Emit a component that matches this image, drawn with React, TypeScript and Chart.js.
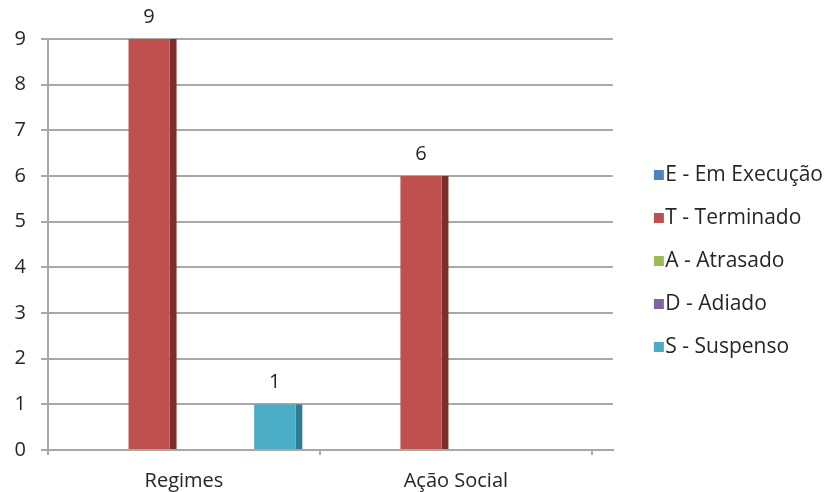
import React, { useEffect, useRef } from 'react';
import { Chart, registerables, CategoryScale } from 'chart.js';

Chart.register(...registerables);

// ---- data ----
const categories = ['Regimes', 'Ação Social'];
const seriesNames = ['E - Em Execução', 'T - Terminado', 'A - Atrasado', 'D - Adiado', 'S - Suspenso'];
const emExecucao = [0, 0];
const terminado = [9, 6];
const atrasado = [0, 0];
const adiado = [0, 0];
const suspenso = [1, 0];
const seriesValues = [emExecucao, terminado, atrasado, adiado, suspenso];
const yMin = 0;
const yMax = 9;
const yStep = 1;

// ---- styles ----
const frontColors = ['#4F81BD', '#C0504D', '#9BBB59', '#8064A2', '#4BACC6'];
const sideColors = ['#385D8A', '#7A2F2D', '#6E8A3D', '#5C4776', '#2E7C92'];
const GRID = '#a8a8a8';
const TEXT = '#262626';
const FONT = '"Open Sans", "Noto Sans", sans-serif';
const DEPTH = 21; // 3D depth of the floor
const SIDE = 7; // dark side face of each column

class FrontCategoryScale extends CategoryScale {
  static id = 'frontCategory';
  configure() {
    super.configure();
    this._endPixel -= DEPTH;
    this._length = this._endPixel - this._startPixel;
  }
}
class MidCategoryScale extends CategoryScale {
  static id = 'midCategory';
  configure() {
    super.configure();
    this._startPixel += DEPTH / 2;
    this._endPixel -= DEPTH / 2;
    this._length = this._endPixel - this._startPixel;
  }
}
Chart.register(FrontCategoryScale, MidCategoryScale);

const valueLabels = {
  id: 'valueLabels',
  afterDatasetsDraw(chart: any) {
    const ctx = chart.ctx;
    ctx.save();
    ctx.font = `20px ${FONT}`;
    ctx.fillStyle = TEXT;
    ctx.textAlign = 'center';
    ctx.textBaseline = 'middle';
    chart.data.datasets.forEach((ds: any, i: number) => {
      const meta = chart.getDatasetMeta(i);
      meta.data.forEach((el: any, j: number) => {
        const v = ds.data[j];
        if (!v) return;
        ctx.fillText(String(v), el.x - SIDE / 2, el.y - 22);
      });
    });
    ctx.restore();
  },
};

function makeSwatch(color: string) {
  const c = document.createElement('canvas');
  c.width = 40;
  c.height = 10;
  const g = c.getContext('2d')!;
  g.fillStyle = color;
  g.fillRect(29, 0, 10, 10);
  return c;
}

export default function App() {
  const ref = useRef<HTMLCanvasElement>(null);
  useEffect(() => {
    if (!ref.current) return;
    const swatches = frontColors.map(makeSwatch);
    const chart = new Chart(ref.current, {
      type: 'bar',
      data: {
        labels: categories,
        datasets: seriesNames.map((name, i) => ({
          label: name,
          data: seriesValues[i],
          xAxisID: 'xb',
          backgroundColor: frontColors[i],
          borderColor: sideColors[i],
          borderWidth: { top: 0, left: 0, bottom: 0, right: SIDE },
          borderSkipped: false,
          inflateAmount: 0,
          categoryPercentage: 0.771,
          barPercentage: 1.155,
        })),
      },
      options: {
        responsive: false,
        animation: false,
        layout: { padding: { top: 30, right: 3, bottom: 0, left: 0 } },
        plugins: {
          tooltip: { enabled: false },
          legend: {
            position: 'right',
            align: 'center',
            maxWidth: 300,
            labels: {
              usePointStyle: true,
              pointStyleWidth: 20,
              padding: 22,
              color: TEXT,
              font: { family: FONT, size: 21 },
              generateLabels: (c: any) =>
                (Chart.defaults.plugins.legend.labels as any)
                  .generateLabels(c)
                  .map((l: any, i: number) => ({ ...l, pointStyle: swatches[i] })),
            },
          },
        },
        scales: {
          x: {
            type: 'frontCategory' as any,
            offset: true,
            grid: {
              display: true,
              drawOnChartArea: false,
              drawTicks: true,
              tickLength: 5,
              color: GRID,
              lineWidth: 2,
              offset: true,
            },
            border: { display: true, color: GRID, width: 2 },
            ticks: {
              color: TEXT,
              font: { family: FONT, size: 20 },
              padding: 14,
              callback: function (this: any, v: any) {
                return this.getLabelForValue(v);
              },
            },
            afterFit: (s: any) => {
              s.height = 42;
            },
          },
          xb: {
            type: 'midCategory' as any,
            display: false,
            offset: true,
            grid: { offset: true },
          },
          topSpace: {
            type: 'category',
            position: 'top',
            grid: { display: false },
            border: { display: false },
            ticks: { display: false },
            afterFit: (s: any) => {
              s.height = 9;
            },
          },
          y: {
            type: 'linear',
            min: yMin,
            max: yMax,
            ticks: {
              stepSize: yStep,
              color: TEXT,
              font: { family: FONT, size: 20 },
              padding: 15,
            },
            grid: { color: GRID, lineWidth: 2, tickLength: 7 },
            border: { display: true, color: GRID, width: 2 },
            afterFit: (s: any) => {
              s.width = 48;
            },
          },
        },
      },
      plugins: [valueLabels],
    } as any);
    return () => chart.destroy();
  }, []);
  return (
    <div style={{ position: 'fixed', left: 0, top: 0, width: 836, height: 492, background: '#fff' }}>
      <canvas ref={ref} width={836} height={492} style={{ display: 'block' }} />
    </div>
  );
}
